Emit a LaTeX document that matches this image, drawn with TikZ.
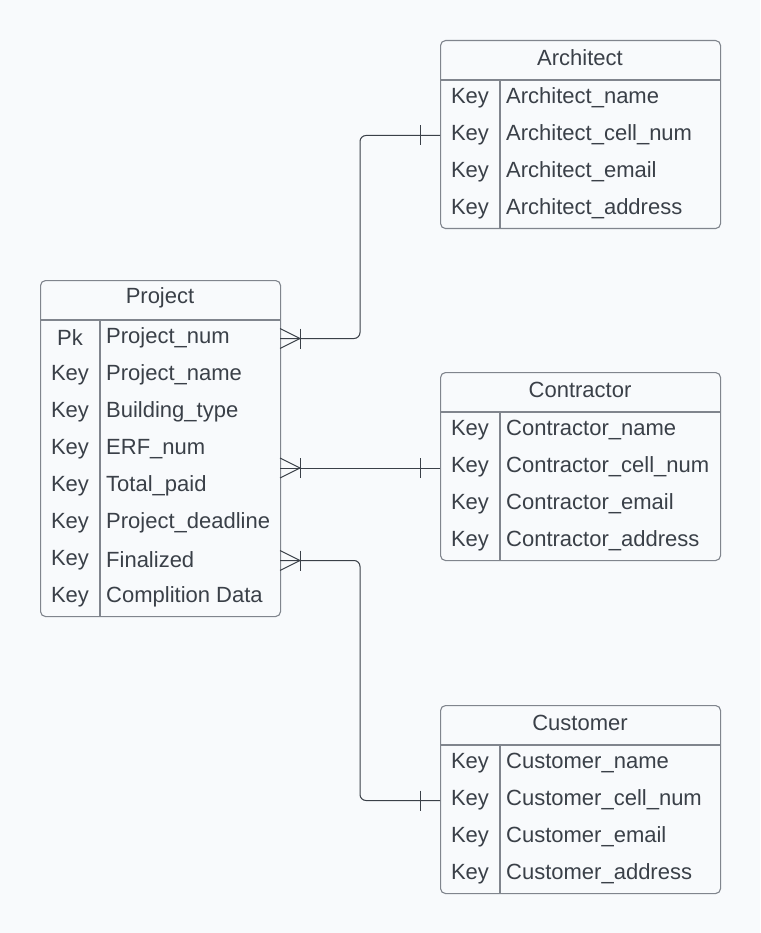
\documentclass[tikz,border=0pt]{standalone}
\usepackage{fontspec}
\setmainfont{Liberation Sans}
\usetikzlibrary{calc}
\definecolor{bgcol}{HTML}{F8FAFC}
\definecolor{bordercol}{HTML}{80858D}
\definecolor{txtcol}{HTML}{3A4048}
\definecolor{conncol}{HTML}{3A4048}
\tikzset{
  x=1pt,y=-1pt,
  tablebox/.style={draw=bordercol, line width=1.1pt, rounded corners=5pt, inner sep=0pt, anchor=north west},
  sepline/.style={draw=bordercol, line width=1.1pt},
  ttl/.style={text=txtcol, font=\fontsize{22}{26}\selectfont, inner sep=0pt},
  keytxt/.style={text=txtcol, font=\fontsize{22}{26}\selectfont, inner sep=0pt},
  fieldtxt/.style={text=txtcol, font=\fontsize{22}{26}\selectfont, inner sep=0pt, anchor=west},
  conn/.style={draw=conncol, line width=1pt},
}
\begin{document}
\begin{tikzpicture}
\useasboundingbox (0,0) rectangle (760,933);
\fill[bgcol] (0,0) rectangle (760,933);

% ---------- Project ----------
\node[tablebox, minimum width=240pt, minimum height=336pt] (proj) at (40,280) {};
\draw[sepline] (40,320) -- (280,320);
\draw[sepline] (100,320) -- (100,616);
\node[ttl] (projT) at (160,298) {Project};
\foreach \k/\f [count=\i] in {Pk/Project\_num, Key/Project\_name, Key/Building\_type, Key/ERF\_num, Key/Total\_paid, Key/Project\_deadline, Key/Finalized, Key/Complition Data}{
  \node[keytxt] (proj-k\i) at (70,{320+37*\i-19}) {\k};
  \node[fieldtxt] (proj-f\i) at (106,{320+37*\i-19}) {\f};
  \coordinate (proj-r\i) at (280,{320+37*\i-18.5});
}
\coordinate (proj-mid) at (280,468);

% ---------- Architect ----------
\node[tablebox, minimum width=280pt, minimum height=188pt] (arch) at (440,40) {};
\draw[sepline] (440,80) -- (720,80);
\draw[sepline] (500,80) -- (500,228);
\node[ttl] (archT) at (580,58) {Architect};
\foreach \k/\f [count=\i] in {Key/Architect\_name, Key/Architect\_cell\_num, Key/Architect\_email, Key/Architect\_address}{
  \node[keytxt] (arch-k\i) at (470,{80+37*\i-19}) {\k};
  \node[fieldtxt] (arch-f\i) at (506,{80+37*\i-19}) {\f};
  \coordinate (arch-l\i) at (440,{80+37*\i-18.5});
}

% ---------- Contractor ----------
\node[tablebox, minimum width=280pt, minimum height=188pt] (cont) at (440,372) {};
\draw[sepline] (440,412) -- (720,412);
\draw[sepline] (500,412) -- (500,560);
\node[ttl] (contT) at (580,390) {Contractor};
\foreach \k/\f [count=\i] in {Key/Contractor\_name, Key/Contractor\_cell\_num, Key/Contractor\_email, Key/Contractor\_address}{
  \node[keytxt] (cont-k\i) at (470,{412+37*\i-19}) {\k};
  \node[fieldtxt] (cont-f\i) at (506,{412+37*\i-19}) {\f};
  \coordinate (cont-l\i) at (440,{412+37*\i-18.5});
}

% ---------- Customer ----------
\node[tablebox, minimum width=280pt, minimum height=188pt] (cust) at (440,705) {};
\draw[sepline] (440,745) -- (720,745);
\draw[sepline] (500,745) -- (500,893);
\node[ttl] (custT) at (580,723) {Customer};
\foreach \k/\f [count=\i] in {Key/Customer\_name, Key/Customer\_cell\_num, Key/Customer\_email, Key/Customer\_address}{
  \node[keytxt] (cust-k\i) at (470,{745+37*\i-19}) {\k};
  \node[fieldtxt] (cust-f\i) at (506,{745+37*\i-19}) {\f};
  \coordinate (cust-l\i) at (440,{745+37*\i-18.5});
}

% ---------- Connectors ----------
% Project -> Architect
\draw[conn, rounded corners=6pt] (proj-r1) -- ++(80,0) |- (arch-l2);
\draw[conn] ($(proj-r1)+(0,-10)$) -- ++(20,10) -- ++(-20,10);
\draw[conn] ($(proj-r1)+(20,-10)$) -- ++(0,20);
\draw[conn] ($(arch-l2)+(-20,-10)$) -- ++(0,20);

% Project -> Contractor
\draw[conn] (proj-mid) -- (proj-mid -| cont-l2);
\draw[conn] ($(proj-mid)+(0,-10)$) -- ++(20,10) -- ++(-20,10);
\draw[conn] ($(proj-mid)+(20,-10)$) -- ++(0,20);
\draw[conn] ($(proj-mid -| cont-l2)+(-20,-10)$) -- ++(0,20);

% Project -> Customer
\draw[conn, rounded corners=6pt] (proj-r7) -- ++(80,0) |- (cust-l2);
\draw[conn] ($(proj-r7)+(0,-10)$) -- ++(20,10) -- ++(-20,10);
\draw[conn] ($(proj-r7)+(20,-10)$) -- ++(0,20);
\draw[conn] ($(cust-l2)+(-20,-10)$) -- ++(0,20);
\end{tikzpicture}
\end{document}
